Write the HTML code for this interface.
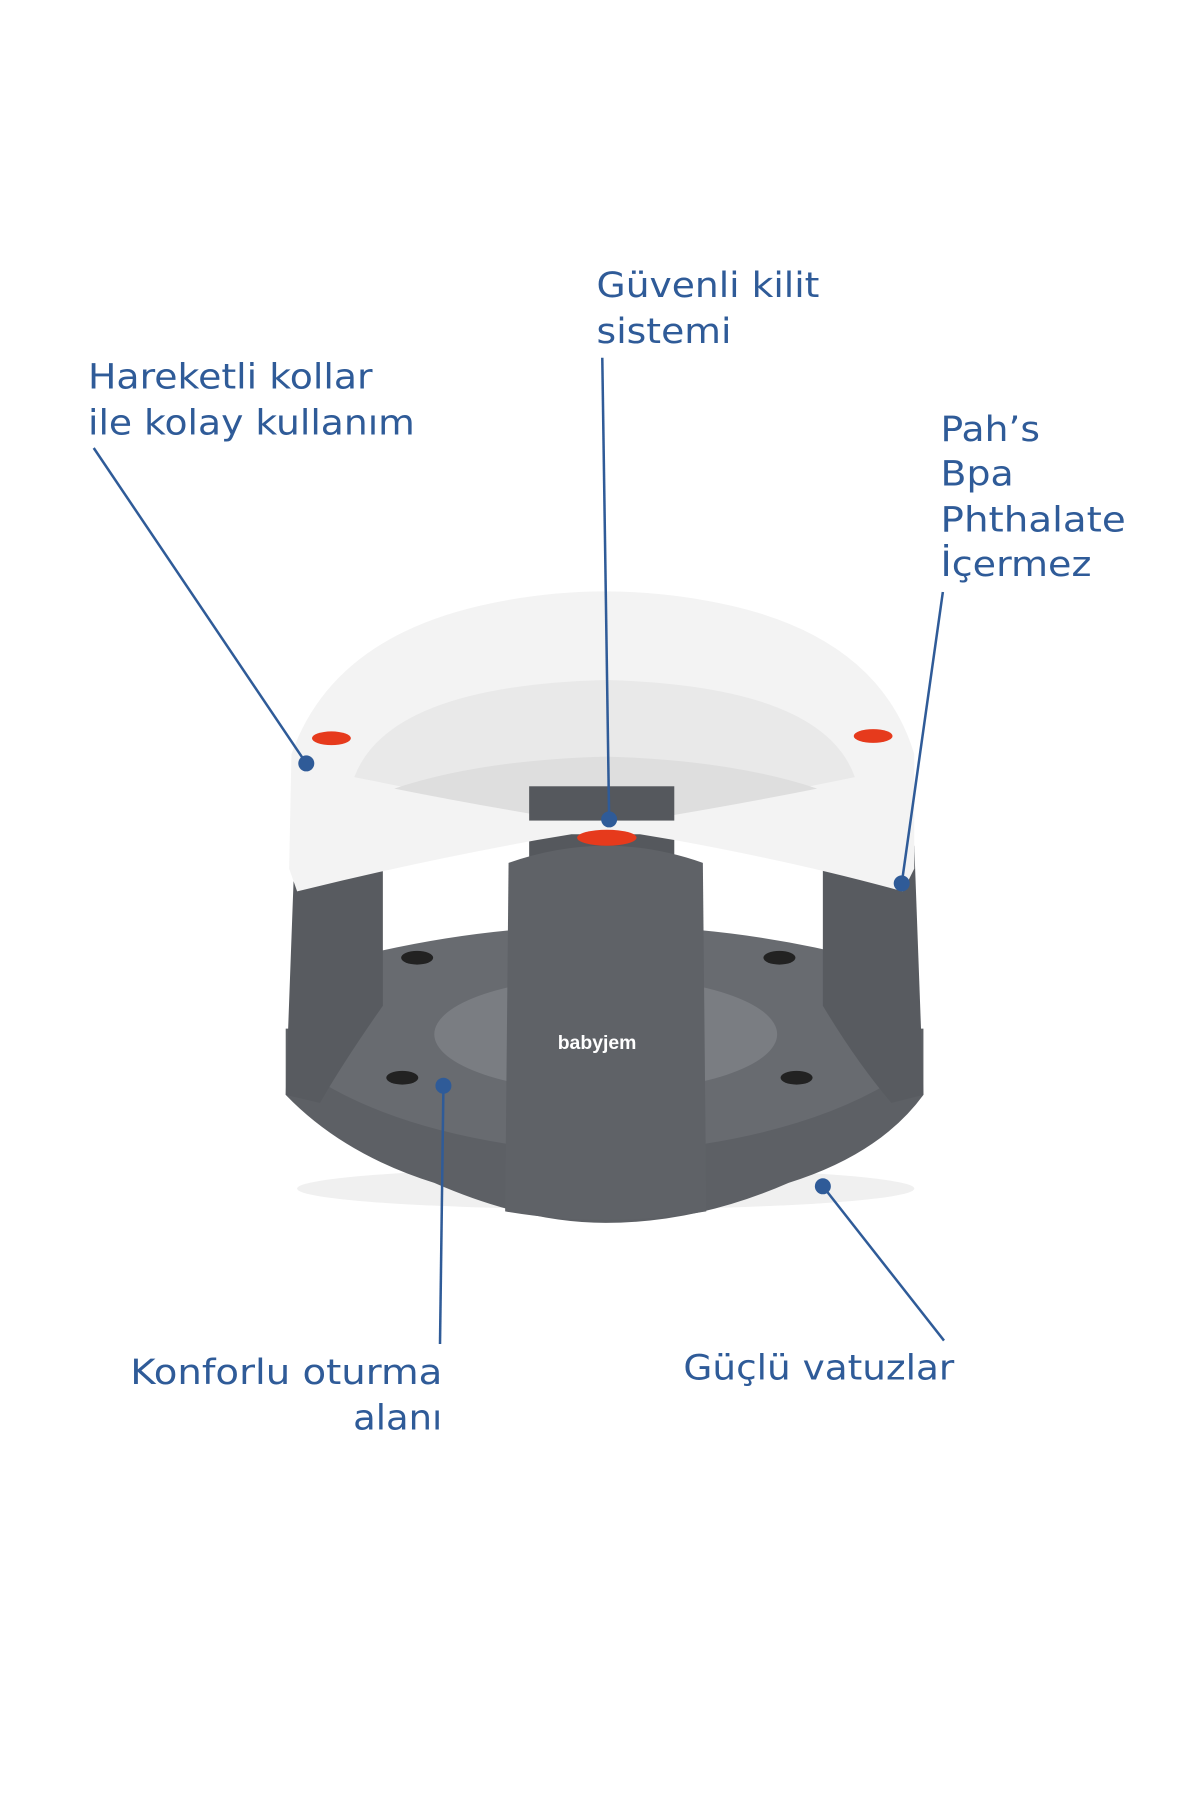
<!DOCTYPE html>
<html><head><meta charset="utf-8"><style>
html,body{margin:0;padding:0;background:#fff;}
svg{display:block}
text{font-family:"DejaVu Sans","Liberation Sans",sans-serif;font-size:30px;fill:#2f5b98;}
</style></head><body>
<svg width="1200" height="1800" viewBox="0 0 1050 1575" xmlns="http://www.w3.org/2000/svg">
<rect width="1050" height="1575" fill="#fff"/>
<ellipse cx="530" cy="1040" rx="270" ry="18" fill="#f0f0f0"/>
<path d="M250 900 L250 958 Q300 1010 380 1035 Q460 1070 530 1070 Q610 1070 690 1035 Q770 1010 808 958 L808 900 Z" fill="#5d6065"/>
<path d="M300 840 Q530 780 760 840 L790 940 Q700 1000 530 1010 Q360 1000 270 940 Z" fill="#686b70"/>
<ellipse cx="530" cy="905" rx="150" ry="50" fill="#7a7d82"/>
<ellipse cx="365" cy="838" rx="14" ry="6" fill="#222"/>
<ellipse cx="682" cy="838" rx="14" ry="6" fill="#222"/>
<ellipse cx="352" cy="943" rx="14" ry="6" fill="#222"/>
<ellipse cx="697" cy="943" rx="14" ry="6" fill="#222"/>
<rect x="463" y="680" width="127" height="80" fill="#55585d"/>
<path d="M258 740 L335 760 L335 880 Q300 930 280 965 L250 958 Z" fill="#585b60"/>
<path d="M720 760 L800 740 L808 958 L780 965 Q750 930 720 880 Z" fill="#585b60"/>
<path d="M445 755 Q530 725 615 755 L618 1060 Q530 1075 442 1060 Z" fill="#5f6267"/>
<text x="488" y="918" style="font-size:17px;font-weight:bold;fill:#fff;font-family:'Liberation Sans',sans-serif">babyjem</text>
<path d="M255 660 Q290 560 420 530 Q530 505 640 530 Q770 560 800 660 L800 760 L790 780 Q700 755 590 735 L560 730 L500 730 L470 735 Q360 755 260 780 L253 760 Z" fill="#f3f3f3"/>
<path d="M310 680 Q340 600 530 595 Q720 600 748 680 Q650 700 560 718 L500 718 Q410 700 310 680 Z" fill="#e9e9e9"/>
<path d="M345 690 Q420 665 530 662 Q640 665 715 690 Q640 705 560 718 L500 718 Q420 705 345 690 Z" fill="#dedede"/>
<rect x="463" y="688" width="127" height="30" fill="#55585d"/>
<ellipse cx="531" cy="733" rx="26" ry="7" fill="#e63a1c"/>
<ellipse cx="290" cy="646" rx="17" ry="6" fill="#e63a1c"/>
<ellipse cx="764" cy="644" rx="17" ry="6" fill="#e63a1c"/>
<g>
<text x="522" y="260" textLength="195" lengthAdjust="spacingAndGlyphs">Güvenli kilit</text>
<text x="522" y="300" textLength="118" lengthAdjust="spacingAndGlyphs">sistemi</text>
<text x="77" y="340" textLength="249" lengthAdjust="spacingAndGlyphs">Hareketli kollar</text>
<text x="77" y="380" textLength="286" lengthAdjust="spacingAndGlyphs">ile kolay kullanım</text>
<text x="823" y="386" textLength="87" lengthAdjust="spacingAndGlyphs">Pah’s</text>
<text x="823" y="425" textLength="64" lengthAdjust="spacingAndGlyphs">Bpa</text>
<text x="823" y="465" textLength="162" lengthAdjust="spacingAndGlyphs">Phthalate</text>
<text x="823" y="504" textLength="132" lengthAdjust="spacingAndGlyphs">İçermez</text>
<text x="114" y="1211" textLength="273" lengthAdjust="spacingAndGlyphs">Konforlu oturma</text>
<text x="309" y="1251" textLength="78" lengthAdjust="spacingAndGlyphs">alanı</text>
<text x="598" y="1207" textLength="237" lengthAdjust="spacingAndGlyphs">Güçlü vatuzlar</text>
</g>
<g stroke="#2f5b98" stroke-width="2.2" fill="none">
<line x1="82" y1="392" x2="268" y2="668"/>
<line x1="527" y1="313" x2="533" y2="717"/>
<line x1="825" y1="518" x2="789" y2="773"/>
<line x1="385" y1="1176" x2="388" y2="950"/>
<line x1="826" y1="1173" x2="720" y2="1038"/>
</g>
<g fill="#2f5b98">
<circle cx="268" cy="668" r="7"/>
<circle cx="533" cy="717" r="7"/>
<circle cx="789" cy="773" r="7"/>
<circle cx="388" cy="950" r="7"/>
<circle cx="720" cy="1038" r="7"/>
</g>
</svg>
</body></html>
